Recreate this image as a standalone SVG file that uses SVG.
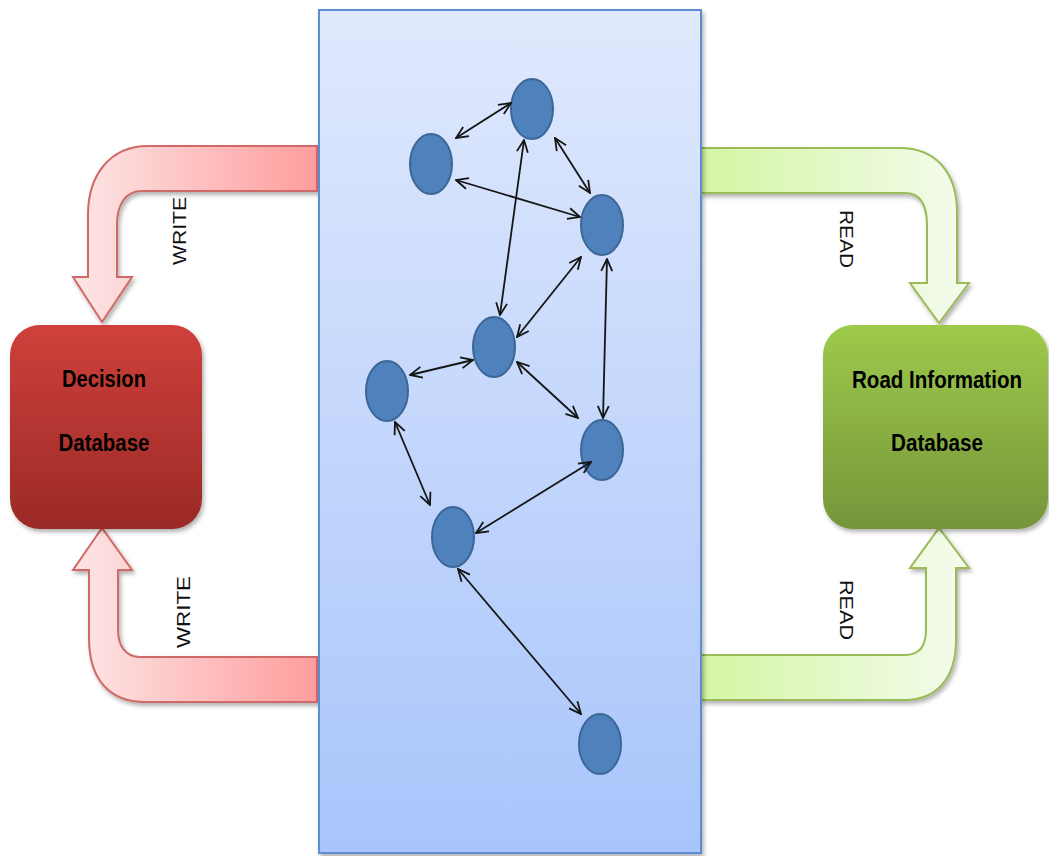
<svg xmlns="http://www.w3.org/2000/svg" width="1049" height="856" viewBox="0 0 1049 856">
<defs>
<style>
.node{fill:#4f81bd;stroke:#3c6696;stroke-width:2}
.edge{stroke:#151515;stroke-width:1.8;fill:none;marker-start:url(#ah);marker-end:url(#ah)}
.boxtxt{font-family:"Liberation Sans",Arial,sans-serif;font-weight:bold;font-size:23px;fill:#000;text-anchor:middle}
.lbl{font-family:"Liberation Sans",Arial,sans-serif;font-size:18px;fill:#111;text-anchor:middle}
.redarrow{fill:url(#redg);stroke:#d06a67;stroke-width:2}
.greenarrow{fill:url(#greeng);stroke:#9bbb59;stroke-width:2}
</style>
<linearGradient id="panelg" x1="0" y1="0" x2="0" y2="1">
<stop offset="0" stop-color="#e0e9fd"/>
<stop offset="1" stop-color="#a8c5fb"/>
</linearGradient>
<linearGradient id="redbox" x1="0" y1="0" x2="0" y2="1">
<stop offset="0" stop-color="#cf403b"/>
<stop offset="1" stop-color="#9a2a26"/>
</linearGradient>
<linearGradient id="greenbox" x1="0" y1="0" x2="0" y2="1">
<stop offset="0" stop-color="#9dca4b"/>
<stop offset="1" stop-color="#76953a"/>
</linearGradient>
<linearGradient id="redg" gradientUnits="userSpaceOnUse" x1="88" y1="0" x2="317" y2="0">
<stop offset="0" stop-color="#fde2e2"/>
<stop offset="1" stop-color="#ff9d9d"/>
</linearGradient>
<linearGradient id="greeng" gradientUnits="userSpaceOnUse" x1="701" y1="0" x2="957" y2="0">
<stop offset="0" stop-color="#d4f6a3"/>
<stop offset="1" stop-color="#f3fbea"/>
</linearGradient>
<filter id="sh" x="-10%" y="-10%" width="130%" height="130%">
<feDropShadow dx="2" dy="3" stdDeviation="2" flood-color="#000" flood-opacity="0.3"/>
</filter>
<marker id="ah" viewBox="0 0 14 14" refX="13" refY="7" markerWidth="14" markerHeight="14" markerUnits="userSpaceOnUse" orient="auto-start-reverse">
<path d="M1,1.5 L13,7 L1,12.5" fill="none" stroke="#151515" stroke-width="1.8"/>
</marker>
</defs>
<rect width="1049" height="856" fill="#fff"/>

<g id="write-top-arrow">
<path class="redarrow" filter="url(#sh)" d="M317,146 L148,146 C110,146 88,175 88,215 L88,277 L73,277 L102,322 L132,277 L117,277 L117,225 C117,205 125,191 142,191 L317,191 Z"/>
<text class="lbl" transform="translate(186,231) rotate(-90)" textLength="68" lengthAdjust="spacingAndGlyphs">WRITE</text>
</g>
<g id="write-bottom-arrow">
<path class="redarrow" filter="url(#sh)" d="M317,657 L140,657 C125,657 118,645 118,630 L118,570 L132,570 L102,528 L73,570 L89,570 L89,638 C89,680 110,702 145,702 L317,702 Z"/>
<text class="lbl" transform="translate(190,612) rotate(-90)" textLength="72" lengthAdjust="spacingAndGlyphs">WRITE</text>
</g>
<g id="read-top-arrow">
<path class="greenarrow" filter="url(#sh)" d="M701,148 L900,148 C935,148 957,172 957,212 L957,283 L969,283 L939,323 L910,283 L927,283 L927,225 C927,205 920,193 905,193 L701,193 Z"/>
<text class="lbl" transform="translate(840,239) rotate(90)" textLength="58" lengthAdjust="spacingAndGlyphs">READ</text>
</g>
<g id="read-bottom-arrow">
<path class="greenarrow" filter="url(#sh)" d="M701,700 L905,700 C935,700 956,680 956,640 L956,568 L969,568 L939,528 L910,568 L926,568 L926,630 C926,645 920,655 905,655 L701,655 Z"/>
<text class="lbl" transform="translate(840,610) rotate(90)" textLength="60" lengthAdjust="spacingAndGlyphs">READ</text>
</g>

<g id="panel">
<rect x="319" y="10" width="382" height="843" fill="url(#panelg)" stroke="#5d8cd2" stroke-width="2" filter="url(#sh)"/>
</g>

<g id="decision-db">
<rect x="10" y="325" width="192" height="204" rx="30" ry="30" fill="url(#redbox)" filter="url(#sh)"/>
<text class="boxtxt" x="104" y="387" textLength="84" lengthAdjust="spacingAndGlyphs">Decision</text>
<text class="boxtxt" x="104" y="451" textLength="91" lengthAdjust="spacingAndGlyphs">Database</text>
</g>
<g id="road-info-db">
<rect x="823" y="325" width="225" height="204" rx="30" ry="30" fill="url(#greenbox)" filter="url(#sh)"/>
<text class="boxtxt" x="937" y="388" textLength="170" lengthAdjust="spacingAndGlyphs">Road  Information</text>
<text class="boxtxt" x="937" y="451" textLength="92" lengthAdjust="spacingAndGlyphs">Database</text>
</g>

<g id="node-a"><ellipse class="node" cx="532" cy="109" rx="21" ry="30"/></g>
<g id="node-b"><ellipse class="node" cx="431" cy="164" rx="21" ry="30"/></g>
<g id="node-c"><ellipse class="node" cx="602" cy="225" rx="21" ry="30"/></g>
<g id="node-d"><ellipse class="node" cx="494" cy="347" rx="21" ry="30"/></g>
<g id="node-e"><ellipse class="node" cx="387" cy="391" rx="21" ry="30"/></g>
<g id="node-f"><ellipse class="node" cx="602" cy="450" rx="21" ry="30"/></g>
<g id="node-g"><ellipse class="node" cx="453" cy="537" rx="21" ry="30"/></g>
<g id="node-h"><ellipse class="node" cx="600" cy="744" rx="21" ry="30"/></g>

<g id="connectors">
<line class="edge" x1="456" y1="138" x2="511" y2="103"/>
<line class="edge" x1="555" y1="138" x2="590" y2="193"/>
<line class="edge" x1="456" y1="180" x2="580" y2="217"/>
<line class="edge" x1="524" y1="140" x2="500" y2="315"/>
<line class="edge" x1="581" y1="257" x2="517" y2="337"/>
<line class="edge" x1="607" y1="259" x2="603" y2="418"/>
<line class="edge" x1="410" y1="375" x2="473" y2="360"/>
<line class="edge" x1="517" y1="362" x2="578" y2="418"/>
<line class="edge" x1="395" y1="422" x2="430" y2="505"/>
<line class="edge" x1="591" y1="462" x2="476" y2="533"/>
<line class="edge" x1="458" y1="569" x2="581" y2="714"/>
</g>
</svg>
